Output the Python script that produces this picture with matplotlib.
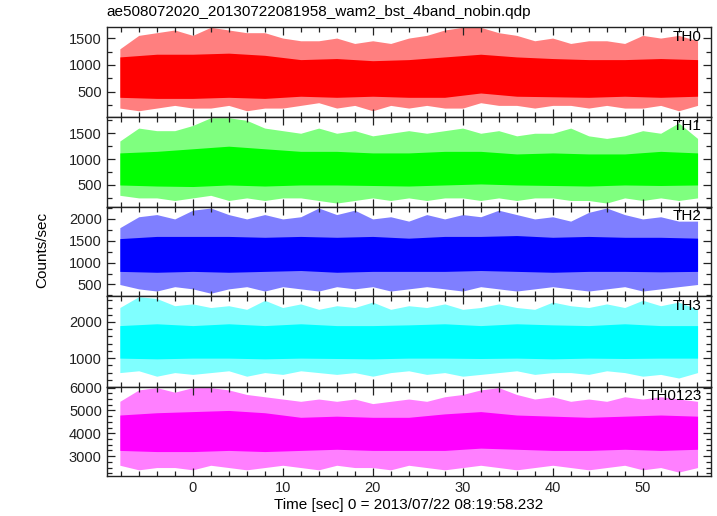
import matplotlib
matplotlib.use("Agg")
import matplotlib.pyplot as plt
from matplotlib.ticker import MultipleLocator

plt.rcParams['font.family'] = ['Liberation Sans', 'DejaVu Sans']

title = "ae508072020_20130722081958_wam2_bst_4band_nobin.qdp"
xlabel = "Time [sec] 0 = 2013/07/22 08:19:58.232"
ylabel = "Counts/sec"

# time grid of the envelopes (sec)
t_spike = [-8.1, -6, -4, -2, 0, 2, 4, 6, 8, 10, 12, 14, 16, 18, 20, 22, 24,
           26, 28, 30, 32, 34, 36, 38, 40, 42, 44, 46, 48, 50, 52, 54, 56.1]
t_core = [-8.1, -4, 0, 4, 8, 12, 16, 20, 24, 28, 32, 36, 40, 44, 48, 52, 56.1]

names = ["TH0", "TH1", "TH2", "TH3", "TH0123"]
colors = ["#ff0000", "#00ff00", "#0000ff", "#00ffff", "#ff00ff"]

# spike extremes (upper / lower) per band
th0_hi = [1300, 1550, 1600, 1650, 1550, 1700, 1650, 1600, 1600, 1500, 1450, 1450, 1500, 1400, 1450, 1400, 1500,
          1550, 1650, 1700, 1700, 1600, 1550, 1450, 1500, 1400, 1450, 1450, 1400, 1550, 1500, 1550, 1450]
th0_lo = [200, 150, 200, 250, 200, 200, 250, 150, 200, 200, 250, 300, 200, 250, 150, 250, 200,
          250, 200, 200, 300, 250, 250, 200, 250, 250, 200, 250, 200, 200, 250, 150, 250]
th1_hi = [1350, 1600, 1550, 1550, 1650, 1800, 1800, 1750, 1600, 1550, 1500, 1600, 1500, 1550, 1450, 1500, 1550,
          1500, 1550, 1600, 1500, 1550, 1450, 1500, 1500, 1600, 1450, 1400, 1450, 1550, 1500, 1700, 1400]
th1_lo = [300, 250, 250, 200, 250, 300, 200, 250, 200, 250, 250, 200, 150, 200, 250, 200, 250,
          200, 250, 250, 200, 250, 200, 250, 250, 200, 200, 150, 250, 200, 250, 200, 250]
th2_hi = [1800, 2050, 2100, 2000, 2200, 2250, 2100, 2000, 2100, 2000, 2050, 2250, 2100, 2200, 2000, 2050, 1950,
          2100, 2000, 2100, 2050, 2200, 2100, 2000, 2050, 1950, 2150, 2250, 2100, 2000, 2050, 1950, 1950]
th2_lo = [500, 400, 350, 450, 400, 300, 400, 450, 350, 450, 400, 350, 450, 400, 450, 350, 400,
          450, 400, 350, 450, 400, 350, 400, 450, 400, 350, 400, 450, 350, 400, 450, 500]
th3_hi = [2400, 2700, 2650, 2450, 2500, 2400, 2450, 2350, 2600, 2400, 2500, 2350, 2450, 2400, 2550, 2350, 2450,
          2400, 2500, 2350, 2400, 2500, 2400, 2350, 2550, 2450, 2400, 2500, 2400, 2600, 2450, 2550, 2350]
th3_lo = [600, 650, 500, 600, 550, 600, 650, 500, 600, 550, 650, 600, 550, 600, 500, 600, 650,
          550, 600, 500, 550, 600, 650, 550, 600, 600, 550, 650, 600, 500, 550, 450, 600]
thall_hi = [5400, 5900, 6000, 5800, 6000, 6000, 5900, 5700, 5600, 5500, 5400, 5500, 5400, 5500, 5300, 5400, 5500,
            5400, 5600, 5700, 5900, 6000, 5700, 5500, 5600, 5400, 5500, 5400, 5600, 5500, 5600, 5500, 5400]
thall_lo = [2600, 2400, 2500, 2500, 2400, 2600, 2500, 2400, 2500, 2600, 2500, 2400, 2600, 2500, 2500, 2400, 2600,
            2500, 2400, 2500, 2600, 2500, 2400, 2500, 2600, 2500, 2400, 2500, 2600, 2400, 2500, 2300, 2500]

# dense core of the light curves (upper / lower)
th0_chi = [1150, 1200, 1200, 1220, 1180, 1100, 1120, 1080, 1100, 1150, 1200, 1150, 1120, 1100, 1100, 1120, 1100]
th0_clo = [400, 380, 380, 400, 380, 420, 400, 420, 400, 400, 480, 420, 410, 400, 420, 400, 420]
th1_chi = [1120, 1150, 1200, 1250, 1200, 1150, 1150, 1120, 1120, 1150, 1150, 1100, 1120, 1100, 1100, 1150, 1120]
th1_clo = [500, 480, 470, 500, 480, 500, 500, 490, 480, 500, 520, 500, 490, 480, 500, 490, 500]
th2_chi = [1550, 1600, 1600, 1600, 1580, 1600, 1580, 1600, 1560, 1600, 1600, 1620, 1580, 1600, 1580, 1580, 1560]
th2_clo = [800, 780, 800, 780, 800, 820, 780, 800, 800, 800, 820, 800, 780, 800, 800, 790, 800]
th3_chi = [1900, 1950, 1900, 1950, 1900, 1950, 1900, 1900, 1920, 1950, 1900, 1950, 1920, 1900, 1950, 1900, 1900]
th3_clo = [1000, 980, 1000, 1000, 980, 1000, 990, 980, 1000, 1000, 990, 1000, 980, 1000, 990, 1000, 1000]
thall_chi = [4800, 4900, 4950, 5000, 4900, 4700, 4750, 4700, 4700, 4850, 4950, 4800, 4750, 4700, 4750, 4800, 4750]
thall_clo = [3250, 3200, 3200, 3250, 3200, 3250, 3300, 3250, 3250, 3250, 3350, 3300, 3250, 3250, 3300, 3250, 3300]

spikes = [(th0_lo, th0_hi), (th1_lo, th1_hi), (th2_lo, th2_hi), (th3_lo, th3_hi), (thall_lo, thall_hi)]
cores = [(th0_clo, th0_chi), (th1_clo, th1_chi), (th2_clo, th2_chi), (th3_clo, th3_chi), (thall_clo, thall_chi)]

ylims = [(40, 1700), (80, 1820), (230, 2280), (210, 2710), (2130, 6040)]
ymajor = [500, 500, 500, 1000, 1000]
yminor = [250, 250, 250, 200, 250]

W, H = 717, 516
fig = plt.figure(figsize=(W / 100, H / 100), dpi=100)
left, right = 106.7, 710.7
edges = [27.3, 116.7, 206.7, 296.3, 386.7, 476.0]

axes = []
for i in range(5):
    top, bot = edges[i], edges[i + 1]
    ax = fig.add_axes([left / W, 1 - bot / H, (right - left) / W, (bot - top) / H])
    lo, hi = spikes[i]
    clo, chi = cores[i]
    ax.fill_between(t_spike, lo, hi, color=colors[i], alpha=0.5, lw=0)
    ax.fill_between(t_core, clo, chi, color=colors[i], lw=0)
    ax.set_xlim(-9.56, 57.56)
    ax.set_ylim(*ylims[i])
    ax.xaxis.set_major_locator(MultipleLocator(10))
    ax.xaxis.set_minor_locator(MultipleLocator(2))
    ax.yaxis.set_major_locator(MultipleLocator(ymajor[i]))
    ax.yaxis.set_minor_locator(MultipleLocator(yminor[i]))
    ax.tick_params(which='both', direction='in', top=True, right=True,
                   labelsize=10.5, colors='#222222', width=0.9)
    ax.tick_params(which='major', length=6)
    ax.tick_params(which='minor', length=3.5)
    for s in ax.spines.values():
        s.set_linewidth(1.0)
        s.set_color('#222222')
    if i < 4:
        ax.tick_params(labelbottom=False)
    ax.text(0.985, 0.97, names[i], transform=ax.transAxes, ha='right', va='top',
            fontsize=11)
    axes.append(ax)

axes[-1].set_xlabel(xlabel, fontsize=11, labelpad=2)
fig.text(42 / W, 1 - 250 / H, ylabel, rotation=90, ha='center', va='center', fontsize=11)
fig.text(left / W, 1 - 12 / H, title, ha='left', va='center', fontsize=11)

fig.savefig("out.png", dpi=100)
